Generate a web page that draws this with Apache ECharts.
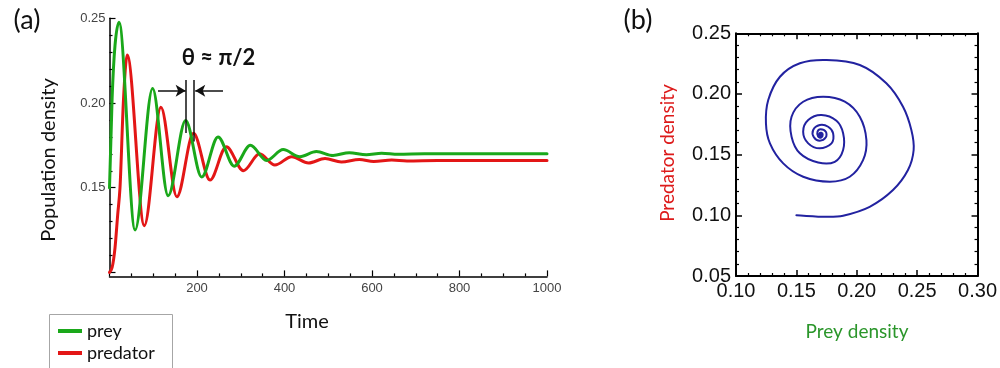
<!DOCTYPE html>
<html>
<head>
<meta charset="utf-8">
<script src="https://cdn.jsdelivr.net/npm/echarts@6/dist/echarts.min.js"></script>
<style>
  html, body { margin: 0; padding: 0; background: #ffffff; }
  #chart { width: 1000px; height: 368px; }
</style>
</head>
<body>
<div id="chart"></div>
<script>
// Damped predator–prey oscillations: time series (a) and phase portrait (b)

// (a) prey density over time (start, rise, then successive peaks and troughs)
const preyTime    = [0, 6, 12.6, 21.7, 58.5, 98.5, 134, 174, 210.7, 248, 285, 322, 359, 397, 435, 473, 511, 548, 587, 622, 660, 720, 1000];
const preyDensity = [0.150, 0.203, 0.234, 0.2476, 0.125, 0.2085, 0.1452, 0.1897, 0.1563, 0.1800, 0.1627, 0.1750, 0.1661, 0.1725, 0.1683, 0.1713, 0.1690, 0.1707, 0.1695, 0.1704, 0.1698, 0.1700, 0.1700];

// (a) predator density over time
const predatorTime    = [0, 6, 12.6, 18.7, 24, 31.6, 40.5, 79.6, 117.5, 154, 192, 229.7, 267, 306, 343, 378, 416.5, 455, 492.6, 530, 571, 604, 645, 680, 750, 1000];
const predatorDensity = [0.100, 0.103, 0.1145, 0.134, 0.150, 0.200, 0.2283, 0.1276, 0.1975, 0.1446, 0.1821, 0.1545, 0.1742, 0.1600, 0.1700, 0.1634, 0.1683, 0.1646, 0.1672, 0.1652, 0.1667, 0.1655, 0.1663, 0.1658, 0.1660, 0.1660];

// (b) trajectory in the prey–predator plane
const phasePrey = [0.150, 0.175, 0.1887, 0.2107, 0.230, 0.2424, 0.2471, 0.2452, 0.2383, 0.2245, 0.2025, 0.175, 0.1529, 0.1364, 0.1267, 0.1248, 0.1281, 0.1391, 0.1556, 0.1777, 0.1942, 0.2052, 0.208, 0.2025, 0.1901, 0.1722, 0.1556, 0.146, 0.146, 0.1529, 0.168, 0.1818, 0.1887, 0.1887, 0.1832, 0.1708, 0.1598, 0.1556, 0.1598, 0.1694, 0.1791, 0.1804, 0.1763, 0.1694, 0.1639, 0.1645, 0.1694, 0.1744, 0.1744, 0.1700, 0.1675, 0.1680, 0.1705, 0.1718, 0.1706, 0.1690, 0.1692, 0.1703, 0.1700, 0.1697];
const phasePredator = [0.100, 0.0988, 0.0997, 0.107, 0.1208, 0.1373, 0.1538, 0.1703, 0.1895, 0.2088, 0.2239, 0.228, 0.2253, 0.2142, 0.195, 0.1758, 0.1593, 0.1428, 0.1318, 0.1277, 0.1318, 0.1455, 0.162, 0.1812, 0.1936, 0.1977, 0.1936, 0.1812, 0.1648, 0.1511, 0.1435, 0.1441, 0.1538, 0.1676, 0.1779, 0.1826, 0.1785, 0.1689, 0.1593, 0.1552, 0.1593, 0.1676, 0.173, 0.1744, 0.1703, 0.1643, 0.1615, 0.1643, 0.1689, 0.1709, 0.1690, 0.1650, 0.1640, 0.1665, 0.1680, 0.1673, 0.1655, 0.1658, 0.1668, 0.1662];

// Axis ranges and tick steps
const timeTicks = { min: 0, max: 1000, step: 200 };
const densityTicks = { min: 0.10, max: 0.25, step: 0.05 };
const phaseXTicks = { min: 0.10, max: 0.30, step: 0.05 };
const phaseYTicks = { min: 0.05, max: 0.25, step: 0.05 };

const GREEN = '#1aa81a';
const RED = '#e31616';
const NAVY = '#2222a0';

const pairs = (xs, ys) => xs.map((x, i) => [x, ys[i]]);
const peakIndex = (ys, from, to) => {
  let best = from;
  for (let i = from; i <= to; i++) if (ys[i] > ys[best]) best = i;
  return best;
};

// third prey peak and third predator peak mark the phase lag
const preyPeakT = preyTime[peakIndex(preyDensity, 6, 8)];
const predPeakT = predatorTime[peakIndex(predatorDensity, 9, 11)];

// Monotone cubic (Steffen) path through pixel points, for curves that are functions of x
function monotonePath(p) {
  const n = p.length;
  const m = new Array(n).fill(0);
  const sign = v => (v > 0 ? 1 : v < 0 ? -1 : 0);
  for (let i = 1; i < n - 1; i++) {
    const h0 = p[i][0] - p[i - 1][0], h1 = p[i + 1][0] - p[i][0];
    const s0 = (p[i][1] - p[i - 1][1]) / h0, s1 = (p[i + 1][1] - p[i][1]) / h1;
    const q = (s0 * h1 + s1 * h0) / (h0 + h1);
    m[i] = (sign(s0) + sign(s1)) * Math.min(Math.abs(s0), Math.abs(s1), 0.5 * Math.abs(q)) || 0;
  }
  const end = (a, b, mt) => {
    const h = b[0] - a[0];
    return h ? (3 * (b[1] - a[1]) / h - mt) / 2 : mt;
  };
  m[0] = end(p[0], p[1], m[1]);
  m[n - 1] = end(p[n - 2], p[n - 1], m[n - 2]);
  let d = 'M' + p[0][0] + ' ' + p[0][1];
  for (let i = 0; i < n - 1; i++) {
    const h = (p[i + 1][0] - p[i][0]) / 3;
    d += ' C' + (p[i][0] + h) + ' ' + (p[i][1] + m[i] * h) + ' ' +
         (p[i + 1][0] - h) + ' ' + (p[i + 1][1] - m[i + 1] * h) + ' ' +
         p[i + 1][0] + ' ' + p[i + 1][1];
  }
  return d;
}

// Chord-length Catmull–Rom path through pixel points, for the phase-plane trajectory
function catmullPath(p) {
  const n = p.length;
  const dist = (a, b) => Math.hypot(b[0] - a[0], b[1] - a[1]) || 1e-6;
  let d = 'M' + p[0][0] + ' ' + p[0][1];
  for (let i = 0; i < n - 1; i++) {
    const p0 = p[Math.max(i - 1, 0)], p1 = p[i], p2 = p[i + 1], p3 = p[Math.min(i + 2, n - 1)];
    const d01 = dist(p0, p1), d12 = dist(p1, p2), d23 = dist(p2, p3);
    const k1 = d12 / (3 * (d01 + d12)), k2 = d12 / (3 * (d12 + d23));
    const c1 = [p1[0] + (p2[0] - p0[0]) * k1, p1[1] + (p2[1] - p0[1]) * k1];
    const c2 = [p2[0] - (p3[0] - p1[0]) * k2, p2[1] - (p3[1] - p1[1]) * k2];
    d += ' C' + c1[0] + ' ' + c1[1] + ' ' + c2[0] + ' ' + c2[1] + ' ' + p2[0] + ' ' + p2[1];
  }
  return d;
}

// Custom series drawing one smooth curve through all of its data points
function curveSeries(name, xs, ys, axisIdx, color, width, pathFn, z) {
  return {
    name: name,
    type: 'custom',
    xAxisIndex: axisIdx, yAxisIndex: axisIdx,
    data: pairs(xs, ys),
    encode: { x: 0, y: 1 },
    itemStyle: { color: color },
    silent: true,
    z: z,
    renderItem: function (params, api) {
      if (params.dataIndex !== 0) return null;
      const pts = xs.map((x, i) => api.coord([x, ys[i]]));
      return {
        type: 'path',
        shape: { pathData: pathFn(pts) },
        style: { fill: 'none', stroke: color, lineWidth: width, lineJoin: 'round', lineCap: 'round' }
      };
    }
  };
}

const chart = echarts.init(document.getElementById('chart'), null, { renderer: 'canvas' });

const tickFont = 'Liberation Sans, Arial, sans-serif';
const titleFont = 'Lato, "Open Sans", sans-serif';
const fmt2 = v => v.toFixed(2);

const frameAxis = (extra) => Object.assign({
  gridIndex: 1,
  type: 'value',
  axisLine: { show: true, onZero: false, lineStyle: { color: '#000', width: 2 } },
  axisTick: { show: true, inside: true, length: 6, lineStyle: { color: '#000', width: 1.5 } },
  minorTick: { show: true, splitNumber: 5, length: 3, lineStyle: { color: '#000', width: 1.2 } },
  splitLine: { show: false },
  minorSplitLine: { show: false }
}, extra);

const option = {
  animation: false,
  backgroundColor: '#ffffff',
  grid: [
    { left: 109.5, top: 18.3, width: 437.5, height: 254.1 },
    { left: 736, top: 33.3, width: 242, height: 242.7 }
  ],
  legend: {
    data: ['prey', 'predator'],
    orient: 'vertical',
    left: 58,
    top: 320,
    padding: 0,
    itemGap: 0,
    itemWidth: 24,
    itemHeight: 4,
    icon: 'rect',
    selectedMode: false,
    textStyle: { fontFamily: titleFont, fontSize: 18, color: '#111', lineHeight: 22 }
  },
  xAxis: [
    {
      gridIndex: 0,
      type: 'value',
      min: timeTicks.min, max: timeTicks.max, interval: timeTicks.step,
      offset: 4,
      axisLine: { show: true, onZero: false, lineStyle: { color: '#000', width: 1.5 } },
      axisTick: { show: true, inside: true, length: 6, lineStyle: { color: '#000', width: 1.2 } },
      minorTick: { show: true, splitNumber: 4, length: 3, lineStyle: { color: '#000', width: 1.2 } },
      axisLabel: { fontFamily: tickFont, fontSize: 13, color: '#444', margin: 6, showMinLabel: false, formatter: v => String(v) },
      splitLine: { show: false }
    },
    frameAxis({
      position: 'bottom',
      min: phaseXTicks.min, max: phaseXTicks.max, interval: phaseXTicks.step,
      axisLabel: { fontFamily: tickFont, fontSize: 20, color: '#111', margin: 5, formatter: fmt2 }
    }),
    frameAxis({
      position: 'top',
      min: phaseXTicks.min, max: phaseXTicks.max, interval: phaseXTicks.step,
      axisLabel: { show: false }
    })
  ],
  yAxis: [
    {
      gridIndex: 0,
      type: 'value',
      min: densityTicks.min, max: densityTicks.max, interval: densityTicks.step,
      axisLine: { show: true, onZero: false, lineStyle: { color: '#000', width: 1.5 } },
      axisTick: { show: true, inside: true, length: 6, lineStyle: { color: '#000', width: 1.2 } },
      minorTick: { show: true, splitNumber: 5, length: 3, lineStyle: { color: '#000', width: 1.2 } },
      axisLabel: { fontFamily: tickFont, fontSize: 13, color: '#444', margin: 4, showMinLabel: false, formatter: fmt2 },
      splitLine: { show: false }
    },
    frameAxis({
      position: 'left',
      min: phaseYTicks.min, max: phaseYTicks.max, interval: phaseYTicks.step,
      axisLabel: { fontFamily: tickFont, fontSize: 20, color: '#111', margin: 5, formatter: fmt2 }
    }),
    frameAxis({
      position: 'right',
      min: phaseYTicks.min, max: phaseYTicks.max, interval: phaseYTicks.step,
      axisLabel: { show: false }
    })
  ],
  series: [
    curveSeries('prey', preyTime, preyDensity, 0, GREEN, 3, monotonePath, 3),
    curveSeries('predator', predatorTime, predatorDensity, 0, RED, 3, monotonePath, 2),
    curveSeries('trajectory', phasePrey, phasePredator, 1, NAVY, 2, catmullPath, 2),
    {
      // phase-lag markers: lines through the third prey and predator peaks, with arrows
      name: 'lag',
      type: 'line',
      xAxisIndex: 0, yAxisIndex: 0,
      data: [],
      markLine: {
        silent: true,
        symbol: ['none', 'none'],
        label: { show: false },
        lineStyle: { color: '#111', width: 1.5, type: 'solid' },
        data: [
          [{ coord: [preyPeakT, 0.2136] }, { coord: [preyPeakT, 0.1823] }],
          [{ coord: [predPeakT, 0.2136] }, { coord: [predPeakT, 0.1772] }],
          [{ coord: [110.9, 0.2073], symbol: 'none' }, { coord: [preyPeakT, 0.2073], symbol: 'arrow', symbolSize: [9, 10] }],
          [{ coord: [259.4, 0.2073], symbol: 'none' }, { coord: [predPeakT + 4, 0.2073], symbol: 'arrow', symbolSize: [9, 10] }]
        ]
      }
    }
  ],
  graphic: [
    { type: 'rect', shape: { x: 49.5, y: 314.5, width: 123, height: 70 }, style: { fill: 'none', stroke: '#a6a6a6', lineWidth: 1 }, z: -1 },
    { type: 'text', x: 27, y: 20, style: { text: '(a)', font: '27px ' + titleFont, fill: '#111', align: 'center', verticalAlign: 'middle' } },
    { type: 'text', x: 638, y: 20, style: { text: '(b)', font: '27px ' + titleFont, fill: '#111', align: 'center', verticalAlign: 'middle' } },
    { type: 'text', x: 218.5, y: 58, style: { text: 'θ ≈ π/2', font: 'bold 22px ' + titleFont, fill: '#111', align: 'center', verticalAlign: 'middle' } },
    { type: 'text', x: 49, y: 160, rotation: Math.PI / 2, style: { text: 'Population density', font: '20px ' + titleFont, fill: '#111', align: 'center', verticalAlign: 'middle' } },
    { type: 'text', x: 307, y: 322, style: { text: 'Time', font: '20px ' + titleFont, fill: '#111', align: 'center', verticalAlign: 'middle' } },
    { type: 'text', x: 857, y: 332, style: { text: 'Prey density', font: '19px ' + titleFont, fill: '#2b962b', align: 'center', verticalAlign: 'middle' } },
    { type: 'text', x: 668, y: 153, rotation: Math.PI / 2, style: { text: 'Predator density', font: '19px ' + titleFont, fill: '#dd1a1a', align: 'center', verticalAlign: 'middle' } }
  ]
};

chart.setOption(option);
</script>
</body>
</html>
